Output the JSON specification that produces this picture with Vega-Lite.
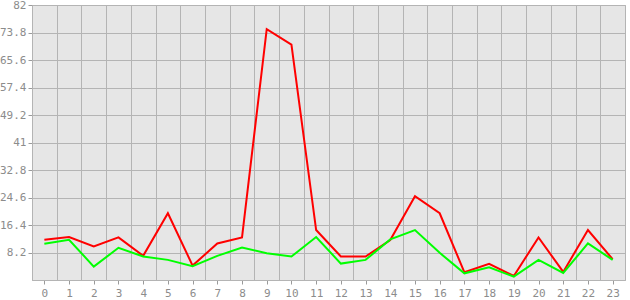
{
  "$schema": "https://vega.github.io/schema/vega-lite/v6.json",
  "width": 593,
  "height": 275,
  "autosize": {"type": "none"},
  "padding": {"left": 32, "top": 5, "right": 5, "bottom": 20},
  "background": "#ffffff",
  "config": {
    "view": {"fill": "#e6e6e6", "stroke": "#b4b4b4", "strokeWidth": 1},
    "axis": {
      "labelFont": "DejaVu Sans Mono",
      "labelFontSize": 11,
      "labelColor": "#8c8c8c",
      "tickColor": "#9a9a9a",
      "domainColor": "#b4b4b4",
      "gridColor": "#b4b4b4",
      "gridOpacity": 1,
      "gridWidth": 1,
      "title": null
    }
  },
  "data": {
    "values": [
      {"hour": 0, "series": "A", "value": 12.0}, {"hour": 1, "series": "A", "value": 12.8}, {"hour": 2, "series": "A", "value": 10.0}, {"hour": 3, "series": "A", "value": 12.7},
      {"hour": 4, "series": "A", "value": 7.2}, {"hour": 5, "series": "A", "value": 19.9}, {"hour": 6, "series": "A", "value": 4.3}, {"hour": 7, "series": "A", "value": 10.9},
      {"hour": 8, "series": "A", "value": 12.7}, {"hour": 9, "series": "A", "value": 74.8}, {"hour": 10, "series": "A", "value": 70.2}, {"hour": 11, "series": "A", "value": 14.9},
      {"hour": 12, "series": "A", "value": 7.0}, {"hour": 13, "series": "A", "value": 7.0}, {"hour": 14, "series": "A", "value": 11.9}, {"hour": 15, "series": "A", "value": 25.0},
      {"hour": 16, "series": "A", "value": 19.9}, {"hour": 17, "series": "A", "value": 2.3}, {"hour": 18, "series": "A", "value": 4.8}, {"hour": 19, "series": "A", "value": 1.2},
      {"hour": 20, "series": "A", "value": 12.7}, {"hour": 21, "series": "A", "value": 2.4}, {"hour": 22, "series": "A", "value": 14.9}, {"hour": 23, "series": "A", "value": 6.2},
      {"hour": 0, "series": "B", "value": 10.8}, {"hour": 1, "series": "B", "value": 12.0}, {"hour": 2, "series": "B", "value": 4.0}, {"hour": 3, "series": "B", "value": 9.6},
      {"hour": 4, "series": "B", "value": 7.0}, {"hour": 5, "series": "B", "value": 6.0}, {"hour": 6, "series": "B", "value": 4.1}, {"hour": 7, "series": "B", "value": 7.2},
      {"hour": 8, "series": "B", "value": 9.7}, {"hour": 9, "series": "B", "value": 8.0}, {"hour": 10, "series": "B", "value": 7.0}, {"hour": 11, "series": "B", "value": 12.8},
      {"hour": 12, "series": "B", "value": 4.9}, {"hour": 13, "series": "B", "value": 6.0}, {"hour": 14, "series": "B", "value": 12.1}, {"hour": 15, "series": "B", "value": 14.9},
      {"hour": 16, "series": "B", "value": 8.1}, {"hour": 17, "series": "B", "value": 2.0}, {"hour": 18, "series": "B", "value": 3.8}, {"hour": 19, "series": "B", "value": 1.0},
      {"hour": 20, "series": "B", "value": 6.0}, {"hour": 21, "series": "B", "value": 2.1}, {"hour": 22, "series": "B", "value": 10.9}, {"hour": 23, "series": "B", "value": 6.0}
    ]
  },
  "layer": [
    {
      "transform": [{"filter": "datum.series === 'A'"}],
      "mark": {"type": "line", "color": "#ff0000", "strokeWidth": 2},
      "encoding": {
        "x": {
          "field": "hour", "type": "quantitative",
          "scale": {"domain": [-0.5, 23.5], "nice": false, "zero": false},
          "axis": {"values": [0,1,2,3,4,5,6,7,8,9,10,11,12,13,14,15,16,17,18,19,20,21,22,23], "grid": false, "tickSize": 4, "labelPadding": 3, "domain": true, "labelFlush": false, "labelOverlap": false}
        },
        "y": {
          "field": "value", "type": "quantitative",
          "scale": {"domain": [0, 82], "nice": false, "zero": true},
          "axis": {"values": [8.2, 16.4, 24.6, 32.8, 41, 49.2, 57.4, 65.6, 73.8, 82], "grid": true, "tickSize": 4, "labelPadding": 2, "labelExpr": "datum.value", "labelFlush": false, "labelOverlap": false}
        }
      }
    },
    {
      "transform": [{"filter": "datum.series === 'B'"}],
      "mark": {"type": "line", "color": "#00ff00", "strokeWidth": 2},
      "encoding": {
        "x": {
          "field": "hour", "type": "quantitative",
          "axis": {"values": [-0.5,0.5,1.5,2.5,3.5,4.5,5.5,6.5,7.5,8.5,9.5,10.5,11.5,12.5,13.5,14.5,15.5,16.5,17.5,18.5,19.5,20.5,21.5,22.5,23.5], "grid": true, "ticks": false, "labels": false, "domain": false}
        },
        "y": {
          "field": "value", "type": "quantitative",
          "axis": {"values": [8.2, 16.4, 24.6, 32.8, 41, 49.2, 57.4, 65.6, 73.8, 82], "grid": true, "tickSize": 4, "labelPadding": 2, "labelExpr": "datum.value", "labelFlush": false, "labelOverlap": false}
        }
      }
    }
  ],
  "resolve": {"axis": {"x": "independent"}}
}
